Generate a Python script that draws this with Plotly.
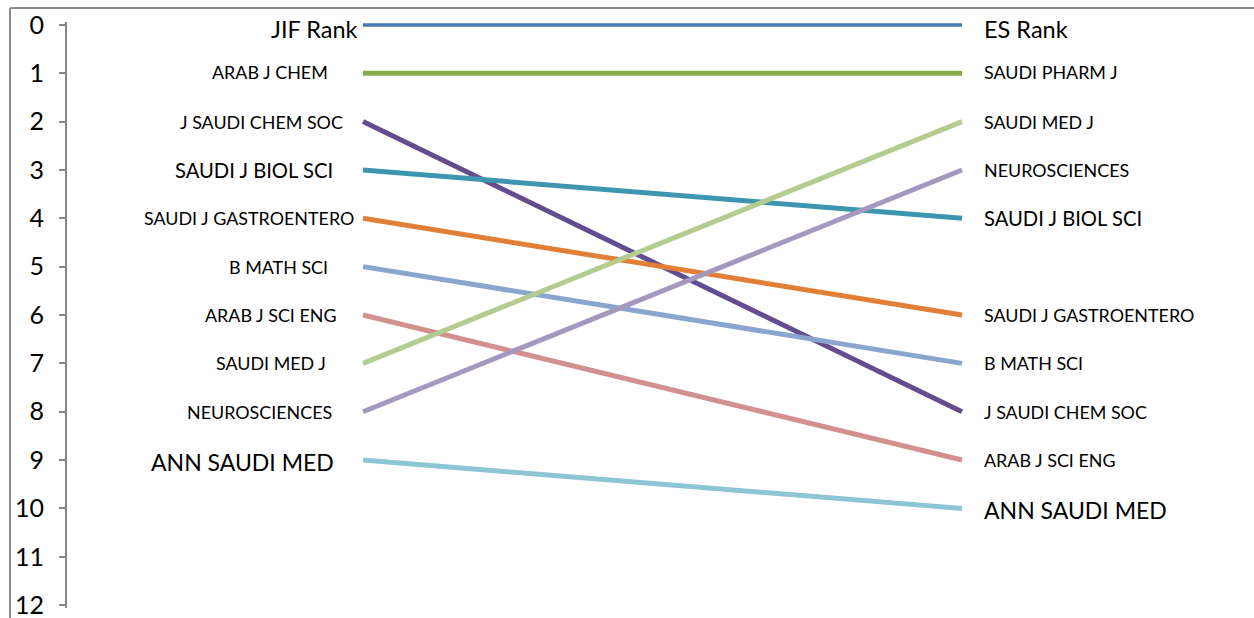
import plotly.graph_objects as go

# ---- data ----
left_labels = ["JIF Rank", "ARAB J CHEM", "J SAUDI CHEM SOC", "SAUDI J BIOL SCI",
               "SAUDI J GASTROENTERO", "B MATH SCI", "ARAB J SCI ENG", "SAUDI MED J",
               "NEUROSCIENCES", "ANN SAUDI MED"]
right_labels = ["ES Rank", "SAUDI PHARM J", "J SAUDI CHEM SOC", "SAUDI J BIOL SCI",
                "SAUDI J GASTROENTERO", "B MATH SCI", "ARAB J SCI ENG", "SAUDI MED J",
                "NEUROSCIENCES", "ANN SAUDI MED"]
jif_rank = [0, 1, 2, 3, 4, 5, 6, 7, 8, 9]
es_rank = [0, 1, 8, 4, 6, 7, 9, 2, 3, 10]
categories = [0, 1]
y_ticks = list(range(0, 13))

# ---- style ----
colors = ["#4677B1", "#8BA84A", "#644D8E", "#3E96AE", "#E07F35",
          "#8AA5CE", "#D29190", "#B4CC8F", "#A598BF", "#8EC5D6"]
widths = [3.5, 5, 5, 5, 5, 5, 5, 5, 5, 5]
size_small, size_mid, size_big = 17.9, 20.2, 23
left_sizes = [23.5, size_small, size_small, size_mid, size_small, size_small,
              size_small, size_small, size_small, size_big]
right_sizes = [23.5, size_small, size_small, size_mid, size_small, size_small,
               size_small, size_small, size_small, size_big]
left_gap = [3, 33, 18, 28, 7, 33, 24, 35, 29, 27]
label_yshift = [-4, 1, 0, 0, 0, 0, 0, 0, 0, -2]
right_gap = 20
FONT = "Lato"
FRAME = "#8C8C8C"

fig = go.Figure()
for i in range(len(left_labels)):
    fig.add_trace(go.Scatter(
        x=categories, y=[jif_rank[i], es_rank[i]], mode="lines",
        line=dict(color=colors[i], width=widths[i]),
        showlegend=False, hoverinfo="skip"))
    fig.add_annotation(x=categories[0], y=jif_rank[i], text=left_labels[i],
                       xanchor="right", yanchor="middle", showarrow=False,
                       xshift=-left_gap[i], yshift=label_yshift[i],
                       font=dict(family=FONT, size=left_sizes[i], color="#000000"))
    fig.add_annotation(x=categories[1], y=es_rank[i], text=right_labels[i] if i < 2 else left_labels[i],
                       xanchor="left", yanchor="middle", showarrow=False,
                       xshift=right_gap, yshift=label_yshift[i],
                       font=dict(family=FONT, size=right_sizes[i], color="#000000"))

fig.update_xaxes(range=[-0.4942, 1.4875], visible=False, fixedrange=True)
fig.update_yaxes(range=[12.06, -0.06], tickmode="array", tickvals=y_ticks,
                 ticktext=[str(v) for v in y_ticks],
                 showgrid=False, zeroline=False, showline=True,
                 linecolor="#868686", linewidth=2,
                 ticks="outside", ticklen=6, tickwidth=2, tickcolor="#868686",
                 ticklabelstandoff=10, ticklabeloverflow="allow",
                 tickfont=dict(family=FONT, size=25, color="#000000"))

# outer chart frame (left and top edges of the chart box)
fx = (10 - 67) / 1187
fy = 1 + (22 - 8) / 586
fig.add_shape(type="line", xref="paper", yref="paper", x0=fx, x1=fx, y0=fy, y1=-0.2,
              line=dict(color=FRAME, width=2))
fig.add_shape(type="line", xref="paper", yref="paper", x0=fx, x1=1.2, y0=fy, y1=fy,
              line=dict(color=FRAME, width=2))

fig.update_layout(width=1254, height=618, margin=dict(l=67, r=0, t=22, b=10),
                  plot_bgcolor="white", paper_bgcolor="white")
fig.write_html("out.html")
